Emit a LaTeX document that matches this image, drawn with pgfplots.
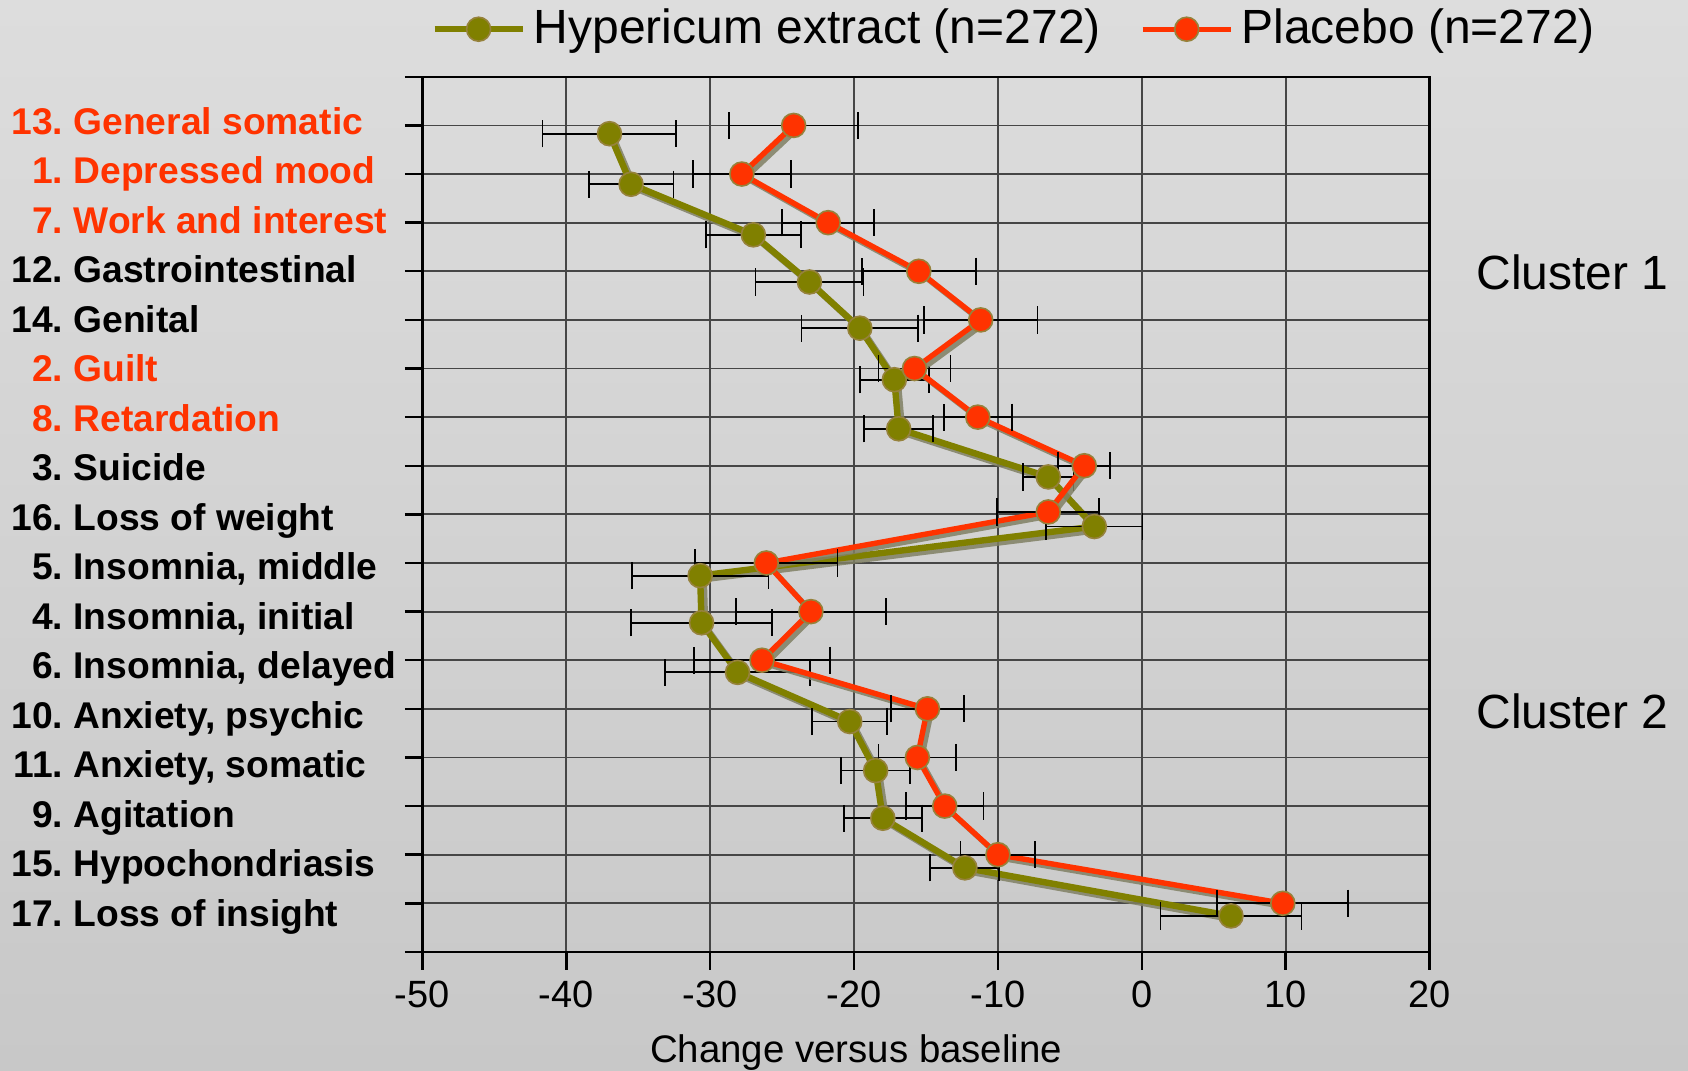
\documentclass[border=0pt]{standalone}
\usepackage{pgfplots}
\pgfplotsset{compat=1.18}
\usepackage{pgfplotstable}
\usepackage{fontspec}
\setmainfont{Liberation Sans}
\definecolor{hyp}{RGB}{128,128,0}
\definecolor{plc}{RGB}{255,51,0}
\definecolor{shad}{RGB}{128,128,100}
\definecolor{gridc}{RGB}{70,70,70}
\definecolor{mk}{RGB}{150,130,60}
\definecolor{bgtop}{RGB}{221,221,221}
\definecolor{bgbot}{RGB}{200,200,200}

% Hypericum extract: row position, mean change, half-width of error bar
\pgfplotstableread{
y      x      ex
1.17  -37.0   4.65
2.21  -35.5   2.95
3.25  -27.0   3.30
4.22  -23.1   3.75
5.17  -19.6   4.05
6.23  -17.2   2.40
7.24  -16.9   2.40
8.23   -6.5   1.75
9.25   -3.3   3.35
10.26 -30.7   4.75
11.23 -30.6   4.90
12.25 -28.1   5.05
13.26 -20.3   2.60
14.27 -18.5   2.40
15.25 -18.0   2.70
16.27 -12.3   2.40
17.26   6.2   4.90
}\hyptab

% Placebo
\pgfplotstableread{
y      x      ex
1     -24.2   4.50
2     -27.8   3.40
3     -21.8   3.20
4     -15.5   3.95
5     -11.2   3.95
6     -15.8   2.50
7     -11.4   2.35
8      -4.0   1.80
8.95   -6.5   3.55
10    -26.1   4.95
11    -23.0   5.20
12    -26.4   4.70
13    -14.9   2.55
14    -15.6   2.70
15    -13.7   2.70
16    -10.0   2.60
17      9.8   4.55
}\plctab

\newcommand{\lbl}[3]{\textcolor{#3}{\makebox[1.39em][r]{#1}\ #2}}

\begin{document}
\begin{tikzpicture}
\shade[top color=bgtop, bottom color=bgbot] (-105.6pt,-29.6pt) rectangle (316.35pt,237.95pt);
\begin{axis}[
  at={(0,0)}, anchor=south west,
  scale only axis, width=251.75pt, height=218.75pt,
  xmin=-50, xmax=20, ymin=0, ymax=18, y dir=reverse,
  clip=false,
  xtick={-50,-40,...,20},
  ytick={0,...,18}, yticklabels={},
  extra y ticks={0.880,1.899,2.917,3.936,4.954,5.973,6.991,8.010,9.028,10.047,11.065,12.084,13.102,14.121,15.139,16.158,17.176},
  extra y tick labels={
    {\lbl{13.}{General somatic}{plc}},
    {\lbl{1.}{Depressed mood}{plc}},
    {\lbl{7.}{Work and interest}{plc}},
    {\lbl{12.}{Gastrointestinal}{black}},
    {\lbl{14.}{Genital}{black}},
    {\lbl{2.}{Guilt}{plc}},
    {\lbl{8.}{Retardation}{plc}},
    {\lbl{3.}{Suicide}{black}},
    {\lbl{16.}{Loss of weight}{black}},
    {\lbl{5.}{Insomnia, middle}{black}},
    {\lbl{4.}{Insomnia, initial}{black}},
    {\lbl{6.}{Insomnia, delayed}{black}},
    {\lbl{10.}{Anxiety, psychic}{black}},
    {\lbl{11.}{Anxiety, somatic}{black}},
    {\lbl{9.}{Agitation}{black}},
    {\lbl{15.}{Hypochondriasis}{black}},
    {\lbl{17.}{Loss of insight}{black}}},
  extra y tick style={grid=none, major tick length=0pt, tick style={draw=none}},
  yticklabel style={anchor=west, inner sep=0pt, xshift=-102.9pt, text height=0.72em, text depth=0pt, font=\fontsize{9.3}{11}\selectfont\bfseries},
  xticklabel style={font=\fontsize{9.5}{11}\selectfont, inner sep=2.6pt},
  /pgf/number format/assume math mode=true,
  grid=major, grid style={gridc, line width=0.45pt},
  tick align=outside, xtick pos=bottom, ytick pos=left,
  major tick length=4.4pt,
  tick style={black, line width=0.6pt},
  axis line style={black, line width=0.6pt},
  xlabel={Change versus baseline},
  xlabel style={at={(axis description cs:0.4306,0)}, anchor=base, yshift=-27.6pt, inner sep=0pt, font=\fontsize{9.6}{11}\selectfont},
  legend columns=2,
  legend cell align=left,
  legend style={at={(axis description cs:0.0081,1.0544)}, anchor=west, draw=none, fill=none, inner sep=0pt,
    font=\fontsize{12}{14}\selectfont,
    /tikz/every even column/.append style={column sep=7.8pt}},
  legend image code/.code={\draw[mark repeat=2,mark phase=2,#1] plot coordinates {(0pt,0pt) (11pt,0pt) (22pt,0pt)};},
]
% shadows
\addplot[forget plot, no marks, shad, opacity=0.85, line width=1.6pt, xshift=0.9pt, yshift=-0.9pt] table[x=x,y=y]{\hyptab};
\addplot[hyp, line width=1.6pt, mark=*, mark size=3.0pt,
  mark options={fill=hyp, draw=mk, line width=0.4pt},
  error bars/.cd, x dir=both, x explicit,
  error bar style={black, line width=0.45pt},
  error mark options={rotate=90, black, line width=0.45pt, mark size=3.4pt}]
  table[x=x, y=y, x error=ex]{\hyptab};
\addlegendentry{Hypericum extract (n=272)}
\addplot[forget plot, no marks, shad, opacity=0.85, line width=1.35pt, xshift=0.9pt, yshift=-0.9pt] table[x=x,y=y]{\plctab};
\addplot[plc, line width=1.35pt, mark=*, mark size=3.0pt,
  mark options={fill=plc, draw=mk, line width=0.4pt},
  error bars/.cd, x dir=both, x explicit,
  error bar style={black, line width=0.45pt},
  error mark options={rotate=90, black, line width=0.45pt, mark size=3.4pt}]
  table[x=x, y=y, x error=ex]{\plctab};
\addlegendentry{Placebo (n=272)}
\node[anchor=west, inner sep=0pt, font=\fontsize{12}{14}\selectfont] at (axis cs:23.2,4.03) {Cluster 1};
\node[anchor=west, inner sep=0pt, font=\fontsize{12}{14}\selectfont] at (axis cs:23.2,13.06) {Cluster 2};
\end{axis}
\pgfresetboundingbox
\path[use as bounding box] (-105.6pt,-29.6pt) rectangle (316.35pt,237.95pt);
\end{tikzpicture}
\end{document}
